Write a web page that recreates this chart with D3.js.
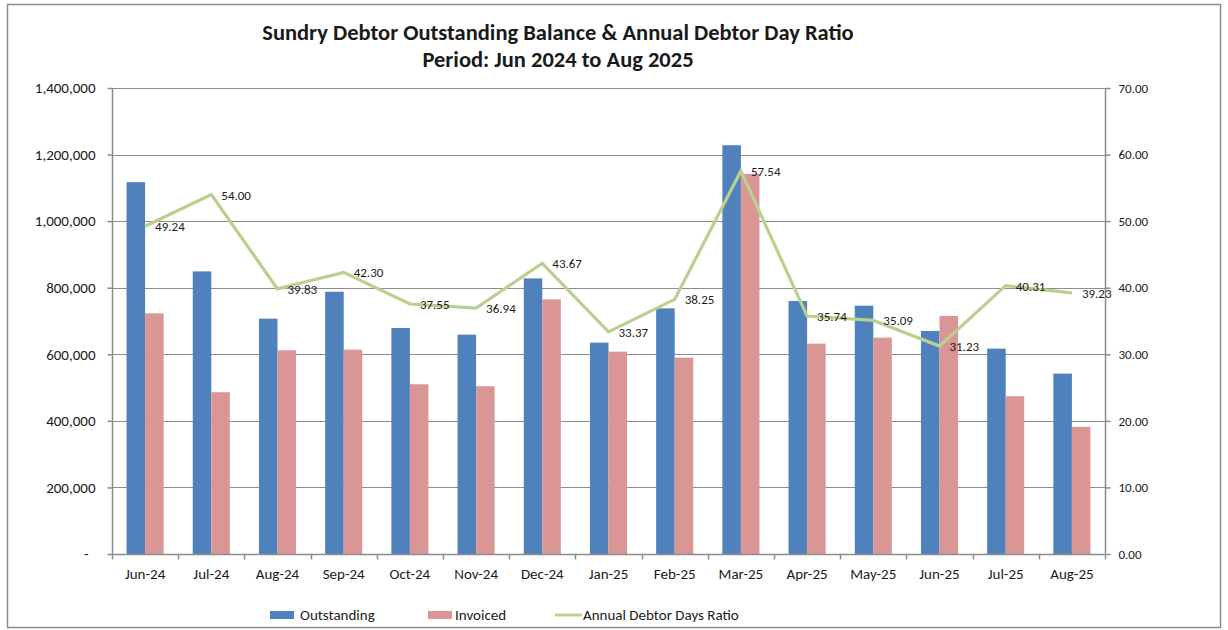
<!DOCTYPE html>
<html>
<head>
<meta charset="utf-8">
<script src="https://cdn.jsdelivr.net/npm/d3@7"></script>
<style>
  body { margin: 0; background: #fff; }
  svg { display: block; }
  text { font-family: Carlito, Calibri, "Liberation Sans", Arial, sans-serif; fill: #1a1a1a; }
</style>
</head>
<body>
<div id="chart"></div>
<script>
// Monthly figures
const months = ["Jun-24", "Jul-24", "Aug-24", "Sep-24", "Oct-24", "Nov-24", "Dec-24", "Jan-25",
                "Feb-25", "Mar-25", "Apr-25", "May-25", "Jun-25", "Jul-25", "Aug-25"];
const outstanding = [1117000, 849000, 707000, 788000, 679000, 659000, 828000, 635000,
                     738000, 1228000, 760000, 746000, 670000, 617000, 542000];
const invoiced = [723000, 486000, 612000, 614000, 510000, 504000, 765000, 608000,
                  590000, 1142000, 632000, 650000, 715000, 474000, 382000];
const debtorDays = [49.24, 54.00, 39.83, 42.30, 37.55, 36.94, 43.67, 33.37,
                    38.25, 57.54, 35.74, 35.09, 31.23, 40.31, 39.23];
const leftTicks = [0, 200000, 400000, 600000, 800000, 1000000, 1200000, 1400000];
const rightTicks = [0, 10, 20, 30, 40, 50, 60, 70];

const W = 1228, H = 630;
const plot = { left: 112, right: 1105, top: 88, bottom: 554 };
const blue = "#4F81BD", pink = "#D99694", green = "#B9D08E", axisGrey = "#8c8c8c";

const svg = d3.select("#chart").append("svg")
    .attr("width", W).attr("height", H);

// chart border
svg.append("rect")
    .attr("x", 7.5).attr("y", 4.5)
    .attr("width", 1213).attr("height", 623)
    .attr("fill", "#fff").attr("stroke", axisGrey).attr("stroke-width", 1.5);

// title
const title = svg.append("text")
    .attr("text-anchor", "middle")
    .attr("font-weight", "bold").attr("font-size", "22.5px");
title.append("tspan").attr("x", 558).attr("y", 40)
    .text("Sundry Debtor Outstanding Balance & Annual Debtor Day Ratio");
title.append("tspan").attr("x", 558).attr("y", 67)
    .text("Period: Jun 2024 to Aug 2025");

// scales
const x = d3.scaleBand()
    .domain(months)
    .range([plot.left, plot.right])
    .paddingInner(0.44)
    .paddingOuter(0.22);
const xSub = d3.scaleBand()
    .domain(["outstanding", "invoiced"])
    .range([0, x.bandwidth()]);
const yLeft = d3.scaleLinear().domain([0, 1400000]).range([plot.bottom, plot.top]);
const yRight = d3.scaleLinear().domain([0, 70]).range([plot.bottom, plot.top]);
const step = x.step();
const centre = m => x(m) + x.bandwidth() / 2;

// gridlines
svg.append("g")
    .selectAll("line")
    .data(leftTicks.slice(1))
    .enter().append("line")
    .attr("x1", plot.left).attr("x2", plot.right)
    .attr("y1", d => Math.round(yLeft(d)) + 0.5)
    .attr("y2", d => Math.round(yLeft(d)) + 0.5)
    .attr("stroke", axisGrey).attr("stroke-width", 1);

// bars
const groups = svg.append("g")
    .selectAll("g")
    .data(months.map((m, i) => ({ month: m, outstanding: outstanding[i], invoiced: invoiced[i] })))
    .enter().append("g")
    .attr("transform", d => `translate(${x(d.month)},0)`);

groups.selectAll("rect")
    .data(d => [{ key: "outstanding", v: d.outstanding }, { key: "invoiced", v: d.invoiced }])
    .enter().append("rect")
    .attr("x", d => xSub(d.key))
    .attr("width", xSub.bandwidth())
    .attr("y", d => yLeft(d.v))
    .attr("height", d => plot.bottom - yLeft(d.v))
    .attr("fill", d => d.key === "outstanding" ? blue : pink);

// left axis
const leftAxis = d3.axisLeft(yLeft)
    .tickValues(leftTicks)
    .tickSize(5)
    .tickPadding(12)
    .tickFormat(d => d === 0 ? "-" : d3.format(",")(d));
const gl = svg.append("g")
    .attr("transform", `translate(${plot.left + 0.5},0)`)
    .call(leftAxis);
gl.selectAll("text").attr("font-size", "15px").attr("font-family", null)
    .attr("dx", d => d === 0 ? "-7" : "0");

// right axis
const rightAxis = d3.axisRight(yRight)
    .tickValues(rightTicks)
    .tickSize(5)
    .tickPadding(8)
    .tickFormat(d3.format(".2f"));
const gr = svg.append("g")
    .attr("transform", `translate(${plot.right + 0.5},0)`)
    .call(rightAxis);
gr.selectAll("text").attr("font-size", "13px").attr("font-family", null);

// bottom axis: ticks at category boundaries
const gb = svg.append("g")
    .attr("transform", `translate(0,${plot.bottom + 0.5})`)
    .call(d3.axisBottom(x).tickSize(0).tickPadding(14));
gb.selectAll("text").attr("font-size", "15px").attr("font-family", null);
gb.selectAll(".boundary")
    .data(d3.range(months.length + 1))
    .enter().append("line")
    .attr("class", "boundary")
    .attr("x1", i => Math.round(plot.left + i * step) + 0.5)
    .attr("x2", i => Math.round(plot.left + i * step) + 0.5)
    .attr("y1", 0).attr("y2", 5);

[gl, gr, gb].forEach(g => {
    g.select(".domain").attr("stroke", axisGrey).attr("stroke-width", 1.5);
    g.selectAll("line").attr("stroke", axisGrey).attr("stroke-width", 1.5);
});
gl.select(".domain").attr("d", `M0,${plot.top}V${plot.bottom}`);
gr.select(".domain").attr("d", `M0,${plot.top}V${plot.bottom}`);
gb.select(".domain").attr("d", `M${plot.left},0H${plot.right}`);

// debtor days line
const line = d3.line()
    .x(d => centre(d.month))
    .y(d => yRight(d.v));
const linePts = months.map((m, i) => ({ month: m, v: debtorDays[i] }));
svg.append("path")
    .datum(linePts)
    .attr("d", line)
    .attr("fill", "none")
    .attr("stroke", green)
    .attr("stroke-width", 3.2)
    .attr("stroke-linejoin", "miter");

svg.append("g")
    .selectAll("text")
    .data(linePts)
    .enter().append("text")
    .attr("x", d => centre(d.month) + 10)
    .attr("y", d => yRight(d.v) + 5)
    .attr("font-size", "13px")
    .attr("fill", "#262626")
    .text(d => d3.format(".2f")(d.v));

// legend
const legend = [
    { name: "Outstanding", type: "bar", color: blue, x: 270, tx: 300 },
    { name: "Invoiced", type: "bar", color: pink, x: 428, tx: 455 },
    { name: "Annual Debtor Days Ratio", type: "line", color: green, x: 555, tx: 583 }
];
const lg = svg.append("g").selectAll("g").data(legend).enter().append("g");
lg.filter(d => d.type === "bar").append("rect")
    .attr("x", d => d.x).attr("y", 611)
    .attr("width", 24).attr("height", 8)
    .attr("fill", d => d.color);
lg.filter(d => d.type === "line").append("line")
    .attr("x1", d => d.x).attr("x2", d => d.x + 27)
    .attr("y1", 615).attr("y2", 615)
    .attr("stroke", d => d.color).attr("stroke-width", 3);
lg.append("text")
    .attr("x", d => d.tx).attr("y", 620)
    .attr("font-size", "15px")
    .text(d => d.name);
</script>
</body>
</html>
